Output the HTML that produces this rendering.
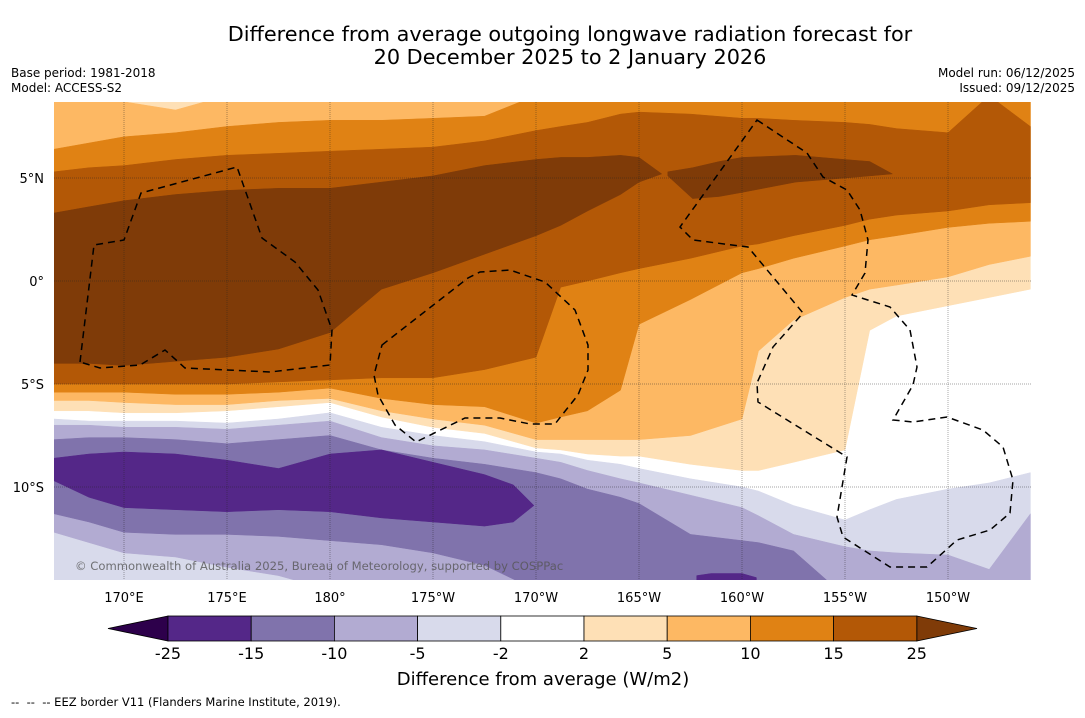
<!DOCTYPE html>
<html><head><meta charset="utf-8">
<style>
html,body{margin:0;padding:0;background:#fff;}
body{width:1085px;height:713px;overflow:hidden;font-family:"Liberation Sans","DejaVu Sans",sans-serif;}
svg text{font-family:"DejaVu Sans","Liberation Sans",sans-serif;}
</style></head>
<body>
<svg id="chart" width="1085" height="713" viewBox="0 0 1085 713" xmlns="http://www.w3.org/2000/svg">
<defs><clipPath id="plotclip"><rect x="54" y="102" width="977" height="478"/></clipPath></defs>
<text x="570" y="41" text-anchor="middle" font-size="20.8" fill="#000">Difference from average outgoing longwave radiation forecast for</text>
<text x="570" y="64" text-anchor="middle" font-size="20.8" fill="#000">20 December 2025 to 2 January 2026</text>
<text x="11" y="77" font-size="12">Base period: 1981-2018</text>
<text x="11" y="92" font-size="12">Model: ACCESS-S2</text>
<text x="1075" y="77" font-size="12" text-anchor="end">Model run: 06/12/2025</text>
<text x="1075" y="92" font-size="12" text-anchor="end">Issued: 09/12/2025</text>
<g id="plot" clip-path="url(#plotclip)">
<rect x="54" y="102" width="977" height="478" fill="#ffffff"/>
<g id="bands"></g>
<g id="grid"></g>
<g id="eez" fill="none" stroke="#000" stroke-width="1.5" stroke-dasharray="7,5">
<path d="M80,362 L94,245 L124,240 L141,193 L237,167 L262,238 L295,262 L318,290 L332,330 L330,365 L270,372 L185,368 L165,350 L140,365 L100,368 Z"/>
<path d="M382,345 L468,278 L480,272 L510,270 L545,282 L575,310 L588,345 L588,370 L578,395 L562,415 L555,424 L530,424 L500,418 L465,418 L416,442 L395,425 L378,395 L374,375 Z"/>
<path d="M757,120 L807,153 L823,177 L847,190 L860,210 L868,240 L865,273 L852,295 L890,307 L910,330 L917,367 L913,385 L893,420 L913,422 L947,417 L983,430 L1003,447 L1013,480 L1010,513 L990,530 L957,540 L927,567 L890,567 L843,537 L837,517 L847,457 L758,402 L757,383 L773,347 L803,313 L748,247 L693,240 L680,227 Z"/>
</g>
<text x="75" y="570" font-size="11.6" fill="#555" fill-opacity="0.8">© Commonwealth of Australia 2025, Bureau of Meteorology, supported by COSPPac</text>
</g>
<g id="axes"></g>
<g id="colorbar"></g>
<text x="543" y="685" text-anchor="middle" font-size="18">Difference from average (W/m2)</text>
<text x="11" y="706" font-size="11.5" xml:space="preserve">--  --  -- EEZ border V11 (Flanders Marine Institute, 2019).</text>
</svg>
<script>
// ---- data ----
const lons = [166.6,168.3,170,172.5,175,177.5,180,182.5,185,187.5,190,191.2,192.5,194.1,195,197.5,200,200.8,202.5,205,206.2,207.5,210,212,214];
const ge2Top = [9,9,9,9,9,9,9,9,9,9,9,9,9,9,9,9,9,9,9,9,9,9,9,9,9];
const ge2Bot = [-6.3,-6.3,-6.4,-6.4,-6.3,-6.1,-5.9,-6.6,-7.1,-7.4,-8.1,-8.2,-8.4,-8.5,-8.5,-8.9,-9.2,-9.2,-8.8,-8.2,-2.4,-1.7,-1.2,-0.8,-0.4];
const ge5Top = [9,8.9,8.7,8.3,9,9,9,9,9,9,9,9,9,9,9,9,9,9,9,9,9,9,9,9,9];
const ge5Bot = [-5.8,-5.8,-5.9,-6.0,-6.0,-5.8,-5.7,-6.3,-6.7,-7.0,-7.7,-7.7,-7.7,-7.7,-7.7,-7.5,-6.7,-3.4,-1.9,-0.8,-0.4,-0.2,0.2,0.8,1.2];
const ge10Top = [6.4,6.7,7.0,7.2,7.5,7.7,7.8,7.8,7.9,8.0,9,9,9,9,9,9,9,9,9,9,9,9,9,9,9];
const ge10Bot = [-5.4,-5.4,-5.4,-5.5,-5.5,-5.4,-5.2,-5.7,-6.0,-6.1,-6.9,-6.6,-6.3,-5.3,-2.1,-0.9,0.4,0.6,1.1,1.7,2.0,2.2,2.6,2.8,2.9];
const ge15Top = [5.3,5.5,5.6,5.9,6.1,6.2,6.3,6.4,6.5,6.8,7.3,7.5,7.7,8.1,8.2,8.1,7.9,7.9,7.8,7.7,7.6,7.4,7.2,9.0,7.5];
const ge15Bot = [-5.0,-5.0,-5.0,-5.0,-5.0,-4.9,-4.8,-4.7,-4.7,-4.3,-3.7,-0.3,0.0,0.4,0.6,1.1,1.7,1.8,2.2,2.7,3.0,3.2,3.4,3.7,3.8];
const ge25aLons = [166.6,168.3,170,172.5,175,177.5,180,182.5,185,187.5,190,191.2,192.5,194.1,195,196.1];
const ge25aTop = [3.3,3.6,3.9,4.2,4.4,4.5,4.5,4.8,5.1,5.6,5.9,6.0,6.0,6.1,6.0,5.2];
const ge25aBot = [-4.0,-4.0,-4.1,-3.9,-3.7,-3.3,-2.5,-0.4,0.4,1.3,2.2,2.7,3.4,4.2,4.8,5.2];
const ge25bLons = [196.4,197.6,198.9,200.0,202.6,205.0,206.2,207.3];
const ge25bTop = [5.3,5.5,5.8,6.0,6.1,5.9,5.8,5.2];
const ge25bBot = [5.1,4.0,4.1,4.3,4.8,5.0,5.1,5.2];
const le2Top = [-6.7,-6.8,-6.8,-6.8,-6.9,-6.7,-6.4,-7.1,-7.5,-7.8,-8.3,-8.4,-8.7,-8.9,-9.1,-9.6,-10.0,-10.2,-10.9,-11.6,-11.1,-10.6,-10.1,-9.8,-9.3];
const le2Bot = [-15,-15,-15,-15,-15,-15,-15,-15,-15,-15,-15,-15,-15,-15,-15,-15,-15,-15,-15,-15,-15,-15,-15,-15,-15];
const le5Top = [-7.0,-7.0,-7.1,-7.1,-7.2,-7.0,-6.8,-7.6,-8.0,-8.2,-8.6,-8.8,-9.2,-9.6,-9.8,-10.4,-11.0,-11.4,-12.3,-12.9,-13.1,-13.2,-13.3,-14.0,-11.3];
const le5Bot = [-12.2,-12.7,-13.2,-13.4,-13.9,-14.3,-15,-15,-15,-15,-15,-15,-15,-15,-15,-15,-15,-15,-15,-15,-15,-15,-15,-15,-15];
const le10Top = [-7.7,-7.6,-7.6,-7.7,-7.9,-7.7,-7.5,-8.2,-8.6,-8.9,-9.3,-9.6,-10.1,-10.5,-10.8,-12.3,-12.6,-12.7,-13.1,-15.3,-15.3,-15.3,-15.3,-15.3,-15.3];
const le10Bot = [-11.3,-11.7,-12.2,-12.3,-12.3,-12.4,-12.6,-12.8,-13.2,-13.8,-15,-15,-15,-15,-15,-15,-15,-15,-15,-15,-15,-15,-15,-15,-15];
const le15aLons = [166.6,168.3,170,172.5,175,177.5,180,182.5,185,187.5,188.9,189.9];
const le15aTop = [-8.6,-8.4,-8.3,-8.4,-8.7,-9.1,-8.4,-8.2,-8.8,-9.4,-9.9,-10.9];
const le15aBot = [-9.7,-10.5,-11.0,-11.1,-11.2,-11.1,-11.2,-11.5,-11.7,-11.9,-11.7,-10.9];
const le15bLons = [197.8,198.5,200,200.7];
const le15bTop = [-14.3,-14.2,-14.2,-14.4];
const le15bBot = [-15,-15,-15,-15];
const levels = [-25,-15,-10,-5,-2,2,5,10,15,25];
const bandColors = ['#542788','#8073ac','#b2abd2','#d8daeb','#ffffff','#fee0b6','#fdb863','#e08214','#b35806'];
const lowColor = '#2d004b', highColor = '#7f3b08';
const lonTicks = [170,175,180,185,190,195,200,205,210];
const lonTickLabels = ['170°E','175°E','180°','175°W','170°W','165°W','160°W','155°W','150°W'];
const latTicks = [5,0,-5,-10];
const latTickLabels = ['5°N','0°','5°S','10°S'];

// ---- scales ----
const NS='http://www.w3.org/2000/svg';
function xs(lon){return 124+(lon-170)*20.6;}
function ys(lat){return 281-lat*20.6;}
function band(name, ls, top, bot, color){
  let pts=[];
  for(let i=0;i<ls.length;i++) pts.push(xs(ls[i]).toFixed(1)+','+ys(top[i]).toFixed(1));
  for(let i=ls.length-1;i>=0;i--) pts.push(xs(ls[i]).toFixed(1)+','+ys(bot[i]).toFixed(1));
  const p=document.createElementNS(NS,'polygon');
  p.setAttribute('points',pts.join(' '));
  p.setAttribute('fill',color);
  p.setAttribute('stroke',color);
  p.setAttribute('stroke-width','0.5');
  
  
  document.getElementById('bands').appendChild(p);
}
band('band-ge-2', lons, ge2Top, ge2Bot, '#fee0b6');
band('band-ge-5', lons, ge5Top, ge5Bot, '#fdb863');
band('band-ge-10', lons, ge10Top, ge10Bot, '#e08214');
band('band-ge-15', lons, ge15Top, ge15Bot, '#b35806');
band('band-ge-25-west', ge25aLons, ge25aTop, ge25aBot, '#7f3b08');
band('band-ge-25-east', ge25bLons, ge25bTop, ge25bBot, '#7f3b08');
band('band-le-minus2', lons, le2Top, le2Bot, '#d8daeb');
band('band-le-minus5', lons, le5Top, le5Bot, '#b2abd2');
band('band-le-minus10', lons, le10Top, le10Bot, '#8073ac');
band('band-le-minus15-west', le15aLons, le15aTop, le15aBot, '#542788');
band('band-le-minus15-south', le15bLons, le15bTop, le15bBot, '#542788');

// ---- grid & axes ----
const grid=document.getElementById('grid'), axes=document.getElementById('axes');
lonTicks.forEach((lon,i)=>{
  const l=document.createElementNS(NS,'line');
  l.setAttribute('x1',xs(lon));l.setAttribute('x2',xs(lon));l.setAttribute('y1',102);l.setAttribute('y2',580);
  l.setAttribute('stroke','#222');l.setAttribute('stroke-width','0.7');l.setAttribute('stroke-dasharray','1,1');l.setAttribute('stroke-opacity','0.55');
  
  
  grid.appendChild(l);
  const t=document.createElementNS(NS,'text');
  t.setAttribute('x',xs(lon));t.setAttribute('y',602);t.setAttribute('text-anchor','middle');t.setAttribute('font-size','13');
  t.textContent=lonTickLabels[i];
  
  
  axes.appendChild(t);
});
latTicks.forEach((lat,i)=>{
  const l=document.createElementNS(NS,'line');
  l.setAttribute('x1',54);l.setAttribute('x2',1031);l.setAttribute('y1',ys(lat));l.setAttribute('y2',ys(lat));
  l.setAttribute('stroke','#222');l.setAttribute('stroke-width','0.7');l.setAttribute('stroke-dasharray','1,1');l.setAttribute('stroke-opacity','0.55');
  
  
  grid.appendChild(l);
  const t=document.createElementNS(NS,'text');
  t.setAttribute('x',44);t.setAttribute('y',ys(lat)+5);t.setAttribute('text-anchor','end');t.setAttribute('font-size','13');
  t.textContent=latTickLabels[i];
  
  
  axes.appendChild(t);
});

// ---- colorbar ----
const cb=document.getElementById('colorbar');
const cbX0=168, cbStep=83.2, cbY=616, cbH=25;
function cbx(i){return cbX0+i*cbStep;}
const lt=document.createElementNS(NS,'polygon');
lt.setAttribute('points',`${cbx(0)},${cbY} 108,${cbY+cbH/2} ${cbx(0)},${cbY+cbH}`);
lt.setAttribute('fill',lowColor);lt.setAttribute('stroke','#000');lt.setAttribute('stroke-width','0.8');


cb.appendChild(lt);
const rt=document.createElementNS(NS,'polygon');
rt.setAttribute('points',`${cbx(levels.length-1)},${cbY} 977,${cbY+cbH/2} ${cbx(levels.length-1)},${cbY+cbH}`);
rt.setAttribute('fill',highColor);rt.setAttribute('stroke','#000');rt.setAttribute('stroke-width','0.8');


cb.appendChild(rt);
bandColors.forEach((c,i)=>{
  const r=document.createElementNS(NS,'rect');
  r.setAttribute('x',cbx(i));r.setAttribute('y',cbY);r.setAttribute('width',cbStep);r.setAttribute('height',cbH);
  r.setAttribute('fill',c);r.setAttribute('stroke','#000');r.setAttribute('stroke-width','0.8');
  
  
  cb.appendChild(r);
});
levels.forEach((v,i)=>{
  const t=document.createElementNS(NS,'text');
  t.setAttribute('x',cbx(i));t.setAttribute('y',659);t.setAttribute('text-anchor','middle');t.setAttribute('font-size','16');
  t.textContent=String(v);
  
  
  cb.appendChild(t);
});
</script>
</body></html>
